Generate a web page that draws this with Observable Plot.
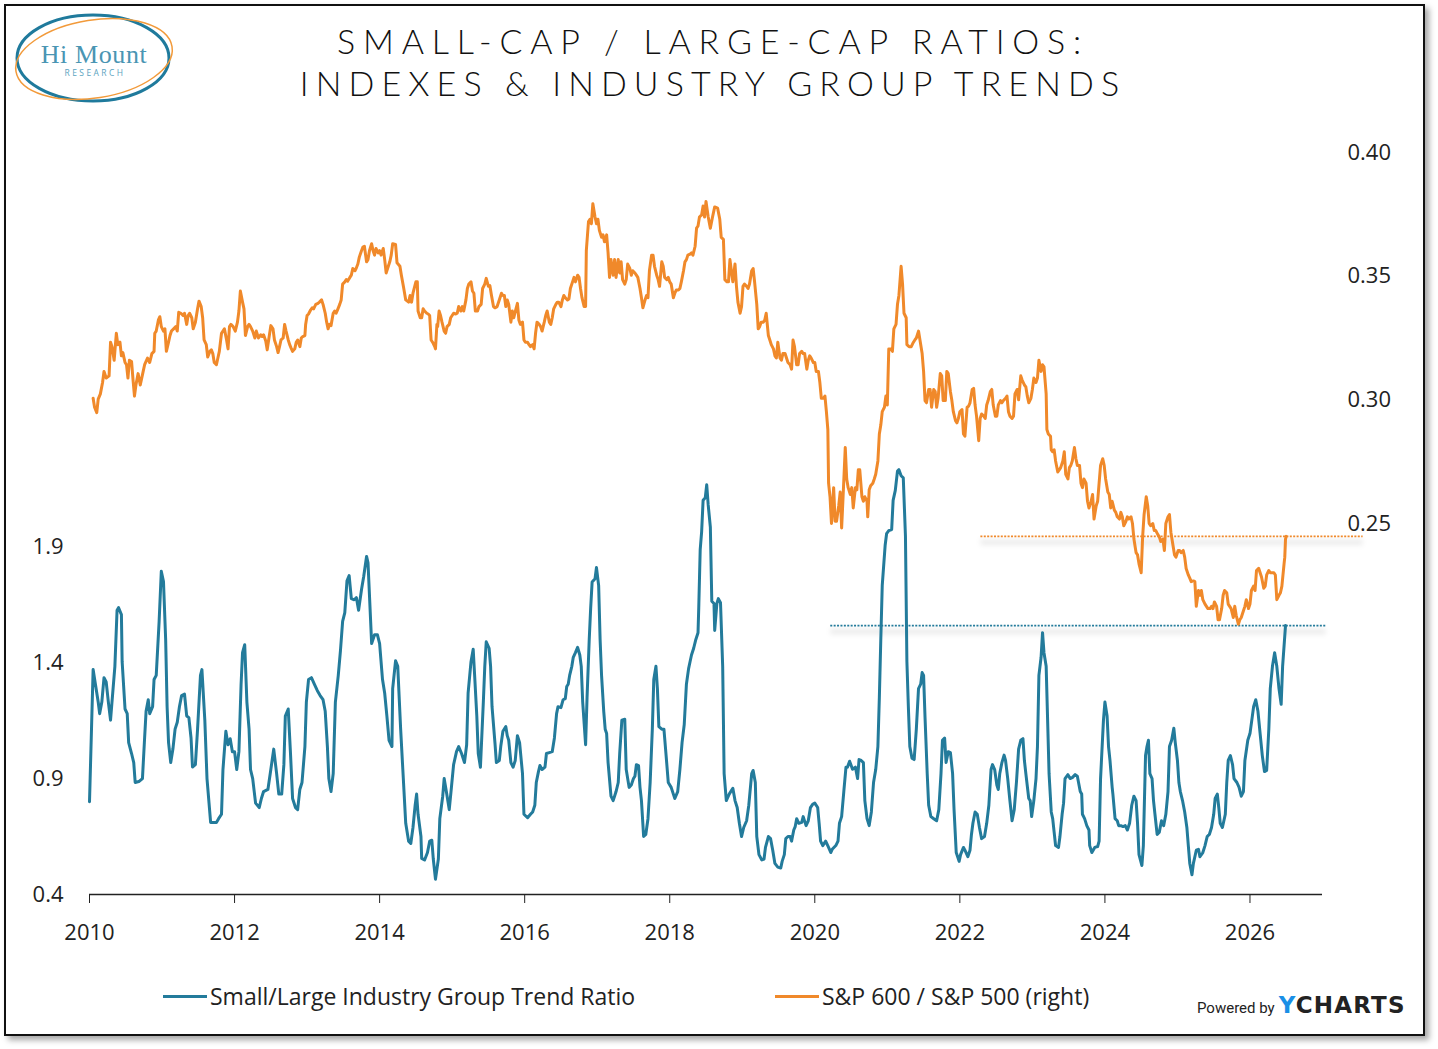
<!DOCTYPE html>
<html><head><meta charset="utf-8">
<script src="https://cdn.jsdelivr.net/npm/d3@7"></script>
<script src="https://cdn.jsdelivr.net/npm/@observablehq/plot@0.6"></script>
<style>
html,body{margin:0;padding:0;background:#fff;}
#wrap{position:relative;width:1438px;height:1049px;overflow:hidden;background:#fff;}
#frame{position:absolute;left:4px;top:4px;width:1417px;height:1028px;border:2px solid #111;box-shadow:4px 4px 6px rgba(0,0,0,0.35);background:#fff;}
#chart{position:absolute;left:0;top:0;}
.title{position:absolute;left:-6px;width:1438px;text-align:center;font-family:Lato,"Open Sans",sans-serif;font-weight:300;font-size:34px;color:#111;white-space:nowrap;}
.leg{position:absolute;top:980px;font-family:"Open Sans","Noto Sans",sans-serif;font-size:23px;color:#222;white-space:nowrap;display:flex;align-items:center;}
.sw{display:inline-block;width:44px;height:3px;margin-right:3px;}
#yc{position:absolute;left:1197px;top:992px;white-space:nowrap;font-family:Roboto,"Open Sans",sans-serif;color:#222;display:flex;align-items:baseline;}
.refshadow{filter:blur(2.5px);}
</style></head>
<body><div id="wrap">
<div id="frame"></div>
<svg id="logo" style="position:absolute;left:0;top:0" width="200" height="120">
  <ellipse cx="93" cy="58" rx="76" ry="43" fill="none" stroke="#1f7a9c" stroke-width="3"/>
  <ellipse cx="94" cy="59" rx="79" ry="39" fill="none" stroke="#f29a3a" stroke-width="1.5" transform="rotate(-9 94 59)"/>
  <text x="94" y="63" text-anchor="middle" font-family="'Liberation Serif',serif" font-size="26" letter-spacing="0.6" fill="#4a95b3">Hi Mount</text>
  <text x="95" y="76" text-anchor="middle" font-family="'Open Sans',sans-serif" font-size="8.5" letter-spacing="2.4" fill="#5ba3c0">RESEARCH</text>
</svg>
<div class="title" style="top:20px;letter-spacing:7.8px">SMALL-CAP / LARGE-CAP RATIOS:</div>
<div class="title" style="top:62px;letter-spacing:7.1px">INDEXES &amp; INDUSTRY GROUP TRENDS</div>
<div id="chart"></div>
<div class="leg" style="left:163px"><span class="sw" style="background:#237b9b"></span>Small/Large Industry Group Trend Ratio</div>
<div class="leg" style="left:775px"><span class="sw" style="background:#f0892a"></span>S&amp;P 600 / S&amp;P 500 (right)</div>
<div id="yc"><span style="font-size:15px;margin-right:4px">Powered by</span><span style="font-size:23px;font-weight:900;letter-spacing:1.2px;font-family:'DejaVu Sans',sans-serif"><span style="color:#1a8fe6">Y</span>CHARTS</span></div>
</div>
<script>
// ---- data ----
const xTicks = [2010, 2012, 2014, 2016, 2018, 2020, 2022, 2024, 2026];
const leftTicks = [0.4, 0.9, 1.4, 1.9];
const rightTicks = [0.25, 0.30, 0.35, 0.40];
const leftDomain = [0.4, 3.6];
const rightDomain = [0.10, 0.40];
const xDomain = [2010, 2027];
const trendRefLevel = 1.56;      // blue dotted
const trendRefSpan = [2020.22, 2027.05];
const indexRefLevel = 0.2448;    // orange dotted (right axis)
const indexRefSpan = [2022.29, 2027.56];

// Small/Large Industry Group Trend Ratio (left axis): [year, value]
const trendRatio = [[2010.00,0.80],[2010.05,1.37],[2010.08,1.31],[2010.12,1.23],[2010.14,1.18],[2010.17,1.23],[2010.20,1.335],[2010.23,1.317],[2010.26,1.23],[2010.29,1.152],[2010.31,1.23],[2010.35,1.384],[2010.38,1.626],[2010.40,1.637],[2010.44,1.607],[2010.45,1.404],[2010.49,1.20],[2010.52,1.18],[2010.54,1.055],[2010.58,1.008],[2010.61,0.969],[2010.63,0.883],[2010.68,0.887],[2010.73,0.90],[2010.76,1.076],[2010.78,1.19],[2010.81,1.24],[2010.83,1.18],[2010.87,1.21],[2010.89,1.327],[2010.92,1.345],[2010.96,1.578],[2010.99,1.794],[2011.02,1.75],[2011.05,1.50],[2011.07,1.21],[2011.09,1.055],[2011.12,0.969],[2011.15,1.027],[2011.18,1.113],[2011.21,1.143],[2011.24,1.21],[2011.27,1.258],[2011.31,1.264],[2011.34,1.17],[2011.37,1.163],[2011.40,1.075],[2011.42,0.95],[2011.46,0.96],[2011.49,1.113],[2011.53,1.345],[2011.55,1.37],[2011.59,1.152],[2011.62,0.90],[2011.67,0.711],[2011.75,0.711],[2011.78,0.727],[2011.82,0.746],[2011.84,0.939],[2011.88,1.104],[2011.91,1.046],[2011.94,1.072],[2011.97,1.016],[2012.00,1.016],[2012.03,0.939],[2012.06,1.016],[2012.09,1.307],[2012.11,1.443],[2012.14,1.477],[2012.17,1.23],[2012.20,1.113],[2012.22,0.939],[2012.25,0.90],[2012.29,0.794],[2012.34,0.775],[2012.37,0.814],[2012.40,0.844],[2012.46,0.853],[2012.50,0.939],[2012.54,1.027],[2012.58,0.921],[2012.61,0.833],[2012.65,0.833],[2012.68,0.96],[2012.70,1.17],[2012.74,1.20],[2012.77,1.016],[2012.80,0.814],[2012.84,0.775],[2012.87,0.766],[2012.90,0.853],[2012.93,0.883],[2012.97,1.038],[2012.99,1.23],[2013.02,1.327],[2013.06,1.335],[2013.10,1.307],[2013.14,1.28],[2013.18,1.258],[2013.22,1.24],[2013.25,1.19],[2013.28,1.038],[2013.30,0.90],[2013.33,0.844],[2013.36,0.921],[2013.39,1.23],[2013.43,1.345],[2013.46,1.452],[2013.49,1.578],[2013.52,1.616],[2013.55,1.753],[2013.58,1.775],[2013.61,1.676],[2013.65,1.671],[2013.68,1.68],[2013.71,1.626],[2013.75,1.714],[2013.78,1.77],[2013.82,1.858],[2013.84,1.83],[2013.89,1.482],[2013.93,1.52],[2013.97,1.52],[2014.00,1.482],[2014.04,1.327],[2014.07,1.268],[2014.10,1.17],[2014.13,1.065],[2014.17,1.038],[2014.18,1.288],[2014.22,1.408],[2014.25,1.384],[2014.29,1.113],[2014.32,0.939],[2014.36,0.707],[2014.40,0.63],[2014.43,0.62],[2014.46,0.689],[2014.49,0.785],[2014.51,0.833],[2014.53,0.746],[2014.57,0.65],[2014.58,0.556],[2014.62,0.549],[2014.66,0.581],[2014.69,0.63],[2014.72,0.634],[2014.74,0.553],[2014.77,0.466],[2014.81,0.553],[2014.83,0.727],[2014.87,0.824],[2014.89,0.90],[2014.92,0.844],[2014.96,0.766],[2014.99,0.862],[2015.02,0.96],[2015.06,1.016],[2015.09,1.038],[2015.13,1.008],[2015.17,0.969],[2015.20,1.046],[2015.22,1.268],[2015.26,1.404],[2015.29,1.458],[2015.31,1.345],[2015.34,1.17],[2015.36,1.008],[2015.39,0.949],[2015.43,1.23],[2015.45,1.384],[2015.47,1.49],[2015.51,1.462],[2015.53,1.384],[2015.55,1.21],[2015.59,1.055],[2015.61,0.969],[2015.65,0.978],[2015.67,1.038],[2015.70,1.104],[2015.74,1.124],[2015.76,1.085],[2015.78,1.065],[2015.81,0.969],[2015.84,0.949],[2015.87,0.978],[2015.90,1.085],[2015.93,1.055],[2015.97,0.921],[2015.99,0.746],[2016.04,0.731],[2016.08,0.746],[2016.11,0.756],[2016.14,0.785],[2016.16,0.883],[2016.19,0.93],[2016.21,0.956],[2016.24,0.939],[2016.28,0.949],[2016.30,1.008],[2016.34,1.012],[2016.38,1.016],[2016.41,1.075],[2016.44,1.18],[2016.46,1.21],[2016.50,1.206],[2016.53,1.24],[2016.56,1.245],[2016.58,1.297],[2016.60,1.307],[2016.62,1.345],[2016.65,1.384],[2016.67,1.423],[2016.70,1.443],[2016.73,1.466],[2016.76,1.433],[2016.78,1.384],[2016.80,1.23],[2016.84,1.046],[2016.86,1.249],[2016.89,1.50],[2016.91,1.636],[2016.93,1.748],[2016.97,1.762],[2016.99,1.81],[2017.02,1.732],[2017.04,1.50],[2017.06,1.345],[2017.09,1.19],[2017.11,1.113],[2017.13,1.094],[2017.15,0.969],[2017.19,0.824],[2017.22,0.805],[2017.26,0.844],[2017.29,0.883],[2017.31,1.008],[2017.34,1.152],[2017.38,1.156],[2017.40,0.939],[2017.44,0.862],[2017.47,0.872],[2017.50,0.90],[2017.52,0.91],[2017.54,0.96],[2017.57,0.956],[2017.59,0.862],[2017.61,0.805],[2017.64,0.65],[2017.67,0.659],[2017.70,0.727],[2017.73,0.883],[2017.76,1.113],[2017.78,1.327],[2017.81,1.384],[2017.83,1.288],[2017.85,1.124],[2017.89,1.113],[2017.92,1.113],[2017.95,0.999],[2017.98,0.883],[2018.02,0.862],[2018.05,0.833],[2018.07,0.814],[2018.11,0.844],[2018.14,0.939],[2018.17,1.055],[2018.20,1.133],[2018.23,1.307],[2018.26,1.374],[2018.28,1.404],[2018.30,1.433],[2018.33,1.462],[2018.36,1.50],[2018.39,1.529],[2018.40,1.636],[2018.42,1.887],[2018.44,1.965],[2018.46,2.10],[2018.49,2.111],[2018.51,2.167],[2018.53,2.081],[2018.56,1.984],[2018.58,1.665],[2018.61,1.655],[2018.62,1.539],[2018.65,1.655],[2018.67,1.676],[2018.70,1.658],[2018.73,1.384],[2018.75,0.921],[2018.78,0.805],[2018.82,0.833],[2018.87,0.858],[2018.90,0.805],[2018.93,0.775],[2018.96,0.707],[2018.99,0.65],[2019.02,0.689],[2019.06,0.718],[2019.09,0.785],[2019.13,0.921],[2019.15,0.935],[2019.18,0.883],[2019.20,0.65],[2019.23,0.572],[2019.27,0.549],[2019.30,0.553],[2019.32,0.603],[2019.36,0.65],[2019.39,0.641],[2019.42,0.591],[2019.45,0.534],[2019.49,0.518],[2019.53,0.514],[2019.55,0.543],[2019.58,0.572],[2019.60,0.641],[2019.63,0.65],[2019.66,0.65],[2019.68,0.63],[2019.71,0.678],[2019.73,0.693],[2019.75,0.727],[2019.78,0.707],[2019.82,0.711],[2019.84,0.736],[2019.88,0.697],[2019.91,0.718],[2019.94,0.775],[2019.97,0.789],[2020.00,0.794],[2020.04,0.775],[2020.06,0.707],[2020.08,0.63],[2020.11,0.611],[2020.15,0.63],[2020.19,0.603],[2020.22,0.581],[2020.24,0.595],[2020.29,0.611],[2020.32,0.63],[2020.34,0.707],[2020.37,0.736],[2020.40,0.844],[2020.43,0.949],[2020.45,0.949],[2020.48,0.975],[2020.52,0.94],[2020.56,0.949],[2020.59,0.90],[2020.61,0.982],[2020.64,0.978],[2020.67,0.969],[2020.69,0.805],[2020.72,0.727],[2020.75,0.697],[2020.78,0.756],[2020.81,0.883],[2020.84,0.939],[2020.87,1.038],[2020.89,1.249],[2020.91,1.50],[2020.93,1.733],[2020.97,1.906],[2020.99,1.956],[2021.02,1.969],[2021.06,1.974],[2021.08,2.10],[2021.11,2.143],[2021.14,2.226],[2021.16,2.232],[2021.19,2.206],[2021.22,2.197],[2021.25,1.945],[2021.27,1.404],[2021.29,1.21],[2021.31,1.038],[2021.34,0.988],[2021.37,0.982],[2021.40,1.113],[2021.43,1.288],[2021.46,1.307],[2021.48,1.357],[2021.50,1.345],[2021.52,1.163],[2021.55,0.921],[2021.57,0.785],[2021.60,0.736],[2021.64,0.727],[2021.68,0.718],[2021.71,0.766],[2021.74,0.921],[2021.76,1.065],[2021.79,1.075],[2021.81,0.969],[2021.84,1.016],[2021.87,1.012],[2021.90,0.921],[2021.92,0.766],[2021.95,0.581],[2021.99,0.543],[2022.01,0.572],[2022.05,0.603],[2022.07,0.591],[2022.11,0.563],[2022.14,0.591],[2022.16,0.659],[2022.18,0.707],[2022.21,0.756],[2022.24,0.746],[2022.27,0.689],[2022.30,0.641],[2022.34,0.65],[2022.37,0.707],[2022.40,0.785],[2022.43,0.939],[2022.45,0.96],[2022.48,0.939],[2022.51,0.872],[2022.53,0.853],[2022.55,0.921],[2022.58,0.969],[2022.61,1.001],[2022.63,0.978],[2022.66,0.90],[2022.69,0.805],[2022.72,0.718],[2022.75,0.766],[2022.78,0.883],[2022.81,1.027],[2022.84,1.065],[2022.87,1.072],[2022.89,0.978],[2022.91,0.921],[2022.95,0.814],[2022.97,0.805],[2022.99,0.736],[2023.02,0.805],[2023.05,0.90],[2023.07,1.038],[2023.09,1.345],[2023.12,1.423],[2023.14,1.529],[2023.16,1.443],[2023.19,1.384],[2023.21,1.152],[2023.23,0.921],[2023.26,0.756],[2023.28,0.727],[2023.30,0.669],[2023.32,0.611],[2023.36,0.603],[2023.38,0.65],[2023.41,0.746],[2023.43,0.794],[2023.45,0.90],[2023.49,0.917],[2023.52,0.90],[2023.55,0.904],[2023.59,0.917],[2023.62,0.91],[2023.66,0.844],[2023.68,0.833],[2023.69,0.746],[2023.72,0.727],[2023.75,0.697],[2023.78,0.678],[2023.79,0.611],[2023.82,0.581],[2023.86,0.603],[2023.90,0.607],[2023.92,0.63],[2023.94,0.90],[2023.98,1.152],[2024.00,1.23],[2024.03,1.17],[2024.05,1.038],[2024.07,0.978],[2024.10,0.862],[2024.11,0.833],[2024.14,0.727],[2024.17,0.718],[2024.19,0.697],[2024.22,0.697],[2024.25,0.693],[2024.28,0.697],[2024.31,0.678],[2024.34,0.707],[2024.37,0.785],[2024.40,0.824],[2024.43,0.805],[2024.45,0.707],[2024.47,0.572],[2024.51,0.525],[2024.53,0.611],[2024.56,0.999],[2024.58,1.038],[2024.60,1.065],[2024.62,0.921],[2024.65,0.90],[2024.67,0.805],[2024.69,0.746],[2024.72,0.659],[2024.75,0.669],[2024.78,0.718],[2024.81,0.697],[2024.84,0.746],[2024.87,0.844],[2024.89,1.038],[2024.92,1.065],[2024.95,1.117],[2024.97,1.055],[2025.00,0.978],[2025.02,0.883],[2025.04,0.844],[2025.07,0.805],[2025.10,0.756],[2025.13,0.689],[2025.15,0.611],[2025.17,0.534],[2025.20,0.485],[2025.22,0.534],[2025.26,0.591],[2025.29,0.595],[2025.31,0.563],[2025.35,0.581],[2025.38,0.611],[2025.41,0.65],[2025.44,0.659],[2025.47,0.689],[2025.50,0.746],[2025.52,0.814],[2025.55,0.833],[2025.57,0.775],[2025.59,0.707],[2025.62,0.689],[2025.66,0.746],[2025.68,0.883],[2025.70,0.978],[2025.73,0.999],[2025.76,0.96],[2025.78,0.90],[2025.82,0.883],[2025.85,0.862],[2025.88,0.824],[2025.91,0.844],[2025.93,0.978],[2025.97,1.065],[2026.00,1.094],[2026.03,1.163],[2026.05,1.21],[2026.08,1.24],[2026.11,1.19],[2026.14,1.094],[2026.17,0.999],[2026.20,0.93],[2026.23,0.935],[2026.26,1.113],[2026.28,1.288],[2026.31,1.384],[2026.34,1.443],[2026.37,1.384],[2026.40,1.288],[2026.43,1.22],[2026.45,1.384],[2026.49,1.56]];

// S&P 600 / S&P 500 (right axis): [year, value]
const spRatio = [[2010.05,.3006],[2010.07,.297],[2010.10,.2948],[2010.12,.3003],[2010.15,.3024],[2010.18,.307],[2010.20,.3115],[2010.23,.3088],[2010.27,.3097],[2010.29,.3233],[2010.31,.3215],[2010.34,.316],[2010.37,.3269],[2010.39,.3223],[2010.42,.3233],[2010.44,.3178],[2010.46,.3191],[2010.49,.3151],[2010.51,.3142],[2010.53,.3088],[2010.55,.316],[2010.58,.3155],[2010.60,.3082],[2010.62,.3015],[2010.64,.306],[2010.67,.3106],[2010.70,.306],[2010.74,.3115],[2010.76,.3142],[2010.80,.3169],[2010.83,.3151],[2010.86,.3187],[2010.89,.3196],[2010.90,.3269],[2010.92,.3278],[2010.95,.3323],[2010.97,.3336],[2010.99,.3296],[2011.02,.3278],[2011.04,.3287],[2011.06,.3196],[2011.09,.3233],[2011.11,.326],[2011.13,.3278],[2011.16,.3287],[2011.19,.3296],[2011.21,.3278],[2011.23,.3354],[2011.26,.335],[2011.29,.3341],[2011.31,.335],[2011.34,.3305],[2011.36,.3341],[2011.38,.335],[2011.41,.3332],[2011.43,.3287],[2011.46,.3314],[2011.49,.3368],[2011.51,.3399],[2011.54,.3377],[2011.56,.3332],[2011.58,.3242],[2011.61,.3223],[2011.63,.3173],[2011.66,.3196],[2011.68,.3202],[2011.70,.3187],[2011.72,.3151],[2011.75,.3142],[2011.77,.3169],[2011.79,.3196],[2011.82,.3269],[2011.84,.3278],[2011.86,.3287],[2011.89,.3242],[2011.91,.3206],[2011.93,.3296],[2011.95,.3305],[2011.98,.3296],[2012.01,.3278],[2012.04,.3314],[2012.06,.3359],[2012.08,.344],[2012.11,.3395],[2012.13,.3368],[2012.15,.326],[2012.18,.3296],[2012.20,.3305],[2012.22,.3296],[2012.25,.3278],[2012.28,.325],[2012.30,.3278],[2012.33,.325],[2012.36,.3263],[2012.38,.3256],[2012.40,.3263],[2012.43,.3238],[2012.45,.3202],[2012.47,.3242],[2012.50,.33],[2012.53,.3287],[2012.55,.3242],[2012.58,.3215],[2012.60,.3191],[2012.62,.3215],[2012.64,.3242],[2012.67,.325],[2012.69,.3305],[2012.71,.3278],[2012.74,.3242],[2012.76,.3223],[2012.78,.3209],[2012.80,.3196],[2012.83,.3206],[2012.85,.3233],[2012.87,.3242],[2012.90,.3215],[2012.92,.325],[2012.94,.3256],[2012.97,.326],[2012.98,.3305],[2013.00,.3341],[2013.02,.3347],[2013.05,.3364],[2013.07,.3372],[2013.09,.3368],[2013.12,.3386],[2013.15,.339],[2013.17,.3395],[2013.20,.3404],[2013.22,.3386],[2013.25,.335],[2013.27,.3314],[2013.29,.3287],[2013.31,.3305],[2013.33,.33],[2013.36,.335],[2013.38,.3359],[2013.40,.335],[2013.42,.3364],[2013.45,.3386],[2013.47,.3404],[2013.49,.3468],[2013.52,.3477],[2013.54,.3486],[2013.56,.348],[2013.59,.3495],[2013.61,.3504],[2013.63,.3531],[2013.66,.3522],[2013.68,.3534],[2013.70,.3549],[2013.72,.3577],[2013.75,.3603],[2013.77,.3618],[2013.79,.3621],[2013.82,.3558],[2013.84,.3567],[2013.86,.3603],[2013.89,.3631],[2013.91,.3603],[2013.93,.3585],[2013.95,.3612],[2013.98,.3594],[2014.00,.3603],[2014.02,.3585],[2014.05,.3612],[2014.07,.3567],[2014.09,.3513],[2014.11,.3531],[2014.14,.3558],[2014.16,.3585],[2014.18,.3631],[2014.22,.3628],[2014.24,.3554],[2014.28,.354],[2014.30,.3504],[2014.33,.3455],[2014.36,.3404],[2014.40,.3395],[2014.42,.3422],[2014.44,.3395],[2014.46,.3431],[2014.50,.3477],[2014.52,.3477],[2014.53,.3359],[2014.56,.3332],[2014.58,.3332],[2014.60,.3368],[2014.62,.3359],[2014.65,.335],[2014.67,.3347],[2014.69,.3341],[2014.71,.3242],[2014.73,.3233],[2014.76,.3215],[2014.77,.3206],[2014.79,.3305],[2014.80,.3296],[2014.82,.3359],[2014.84,.3341],[2014.86,.3314],[2014.89,.3278],[2014.91,.3269],[2014.93,.3296],[2014.96,.3305],[2014.98,.3332],[2015.00,.3341],[2015.02,.335],[2015.05,.3347],[2015.07,.335],[2015.09,.3377],[2015.12,.3359],[2015.14,.3377],[2015.16,.3359],[2015.19,.3404],[2015.21,.345],[2015.23,.3468],[2015.26,.3477],[2015.28,.344],[2015.30,.3431],[2015.32,.3359],[2015.35,.3359],[2015.37,.3377],[2015.40,.3386],[2015.42,.345],[2015.45,.3468],[2015.47,.3491],[2015.50,.3459],[2015.52,.3462],[2015.54,.3426],[2015.57,.3377],[2015.59,.3372],[2015.62,.3377],[2015.65,.3404],[2015.68,.3431],[2015.70,.3422],[2015.72,.3422],[2015.74,.3377],[2015.76,.3404],[2015.78,.3386],[2015.81,.3314],[2015.83,.3359],[2015.85,.3332],[2015.88,.3368],[2015.90,.339],[2015.92,.3323],[2015.94,.3305],[2015.97,.3314],[2015.99,.3242],[2016.01,.3233],[2016.04,.3233],[2016.06,.3223],[2016.08,.3215],[2016.11,.3223],[2016.13,.3206],[2016.15,.3269],[2016.17,.3314],[2016.20,.3305],[2016.22,.3296],[2016.24,.3278],[2016.27,.3314],[2016.29,.3341],[2016.31,.3359],[2016.34,.3314],[2016.36,.3305],[2016.38,.3332],[2016.40,.3368],[2016.43,.3386],[2016.45,.3395],[2016.47,.3395],[2016.50,.3377],[2016.52,.3404],[2016.54,.3422],[2016.56,.3413],[2016.59,.3404],[2016.61,.3408],[2016.63,.345],[2016.66,.3477],[2016.68,.3495],[2016.70,.3477],[2016.73,.3504],[2016.75,.3495],[2016.77,.345],[2016.79,.3413],[2016.82,.3377],[2016.84,.3377],[2016.85,.3603],[2016.88,.3721],[2016.90,.373],[2016.92,.3712],[2016.94,.3793],[2016.97,.3739],[2016.99,.3712],[2017.01,.373],[2017.03,.3685],[2017.06,.3657],[2017.08,.3667],[2017.10,.3639],[2017.13,.3667],[2017.15,.3594],[2017.17,.3495],[2017.19,.3567],[2017.22,.3504],[2017.24,.3567],[2017.26,.3495],[2017.29,.3567],[2017.31,.3513],[2017.33,.3558],[2017.35,.3486],[2017.38,.3468],[2017.40,.3486],[2017.42,.3549],[2017.45,.3531],[2017.47,.3504],[2017.49,.3522],[2017.52,.3513],[2017.54,.3504],[2017.56,.3495],[2017.59,.345],[2017.61,.3413],[2017.63,.3372],[2017.66,.3404],[2017.68,.3422],[2017.70,.3413],[2017.72,.3522],[2017.75,.3585],[2017.77,.3585],[2017.79,.354],[2017.82,.3504],[2017.84,.3486],[2017.86,.3459],[2017.89,.3558],[2017.91,.354],[2017.93,.3495],[2017.96,.3486],[2017.98,.3495],[2018.00,.3477],[2018.02,.3468],[2018.05,.3413],[2018.07,.3431],[2018.09,.3444],[2018.12,.3444],[2018.14,.345],[2018.16,.3477],[2018.19,.3522],[2018.21,.3558],[2018.23,.3567],[2018.25,.3585],[2018.28,.3589],[2018.30,.3594],[2018.32,.3585],[2018.35,.3621],[2018.37,.3694],[2018.39,.3703],[2018.41,.3739],[2018.44,.3748],[2018.46,.3784],[2018.48,.3739],[2018.50,.3802],[2018.53,.374],[2018.56,.3694],[2018.59,.3739],[2018.62,.378],[2018.66,.3775],[2018.69,.373],[2018.71,.3657],[2018.74,.3649],[2018.76,.3486],[2018.79,.3477],[2018.81,.3477],[2018.83,.3567],[2018.85,.3522],[2018.87,.3477],[2018.90,.3549],[2018.92,.3459],[2018.94,.3395],[2018.97,.335],[2018.99,.3377],[2019.01,.3459],[2019.03,.3468],[2019.06,.3459],[2019.08,.345],[2019.10,.3468],[2019.13,.3522],[2019.15,.3531],[2019.17,.3477],[2019.20,.3386],[2019.22,.3287],[2019.24,.3296],[2019.26,.3314],[2019.29,.3314],[2019.31,.3323],[2019.33,.335],[2019.36,.326],[2019.38,.3242],[2019.40,.3223],[2019.43,.3206],[2019.45,.3178],[2019.47,.3169],[2019.49,.3233],[2019.52,.3169],[2019.54,.316],[2019.56,.3187],[2019.59,.3187],[2019.61,.3169],[2019.63,.3151],[2019.66,.3142],[2019.68,.3124],[2019.70,.3242],[2019.72,.3215],[2019.75,.3142],[2019.77,.3142],[2019.79,.3187],[2019.82,.3196],[2019.84,.3187],[2019.86,.3187],[2019.89,.3124],[2019.91,.316],[2019.93,.3178],[2019.95,.3169],[2019.98,.3151],[2020.00,.3151],[2020.02,.3115],[2020.05,.3115],[2020.07,.307],[2020.09,.3006],[2020.12,.3006],[2020.14,.3015],[2020.16,.2952],[2020.18,.288],[2020.19,.2663],[2020.21,.2608],[2020.23,.25],[2020.26,.2645],[2020.28,.2509],[2020.30,.2509],[2020.33,.2572],[2020.35,.2627],[2020.37,.2482],[2020.39,.2608],[2020.42,.2807],[2020.44,.268],[2020.46,.2645],[2020.49,.2617],[2020.51,.2645],[2020.53,.2563],[2020.56,.2645],[2020.58,.2636],[2020.60,.2717],[2020.62,.2717],[2020.65,.2608],[2020.67,.259],[2020.69,.2608],[2020.72,.259],[2020.73,.2527],[2020.75,.2636],[2020.77,.2653],[2020.80,.2663],[2020.82,.268],[2020.84,.2699],[2020.87,.2753],[2020.89,.2862],[2020.91,.2898],[2020.93,.2952],[2020.96,.297],[2020.98,.3015],[2021.00,.2979],[2021.02,.3206],[2021.05,.3206],[2021.07,.3196],[2021.09,.3287],[2021.12,.3305],[2021.14,.3386],[2021.16,.3422],[2021.19,.354],[2021.21,.3468],[2021.23,.335],[2021.26,.3332],[2021.27,.3223],[2021.30,.3215],[2021.33,.3215],[2021.36,.3233],[2021.38,.3242],[2021.40,.325],[2021.43,.3278],[2021.45,.3242],[2021.48,.3187],[2021.50,.3115],[2021.52,.2997],[2021.54,.2988],[2021.57,.3042],[2021.59,.3042],[2021.61,.297],[2021.64,.3042],[2021.66,.3033],[2021.68,.297],[2021.70,.3006],[2021.73,.3106],[2021.75,.3097],[2021.77,.2997],[2021.80,.2997],[2021.82,.3115],[2021.84,.3106],[2021.87,.3033],[2021.89,.2997],[2021.91,.2952],[2021.94,.2916],[2021.96,.2907],[2021.98,.2925],[2022.00,.2952],[2022.03,.2961],[2022.05,.2862],[2022.07,.2853],[2022.10,.297],[2022.12,.2974],[2022.14,.2988],[2022.17,.3042],[2022.19,.3046],[2022.21,.2979],[2022.23,.2934],[2022.26,.2835],[2022.28,.2925],[2022.30,.2943],[2022.33,.2934],[2022.35,.2925],[2022.37,.2979],[2022.39,.2997],[2022.42,.3033],[2022.44,.3042],[2022.46,.2979],[2022.49,.2934],[2022.51,.2934],[2022.53,.2979],[2022.56,.2997],[2022.58,.2988],[2022.60,.2997],[2022.63,.3006],[2022.65,.3015],[2022.67,.2952],[2022.69,.2934],[2022.72,.2925],[2022.74,.2934],[2022.76,.3024],[2022.79,.3042],[2022.81,.3000],[2022.84,.3097],[2022.86,.3079],[2022.89,.306],[2022.91,.3052],[2022.93,.3015],[2022.95,.2988],[2022.98,.3006],[2023.00,.3042],[2023.02,.3088],[2023.05,.307],[2023.07,.3088],[2023.09,.316],[2023.12,.3115],[2023.14,.3142],[2023.16,.3133],[2023.19,.3024],[2023.20,.288],[2023.22,.2862],[2023.25,.2853],[2023.26,.2798],[2023.28,.279],[2023.30,.2798],[2023.32,.2753],[2023.35,.2708],[2023.37,.2717],[2023.39,.2726],[2023.42,.2753],[2023.44,.279],[2023.46,.2699],[2023.49,.268],[2023.51,.2726],[2023.53,.2735],[2023.55,.2753],[2023.58,.2807],[2023.60,.2762],[2023.62,.2735],[2023.65,.2735],[2023.67,.2663],[2023.69,.2645],[2023.71,.268],[2023.74,.2663],[2023.76,.259],[2023.78,.2563],[2023.81,.259],[2023.83,.2617],[2023.85,.2518],[2023.88,.2572],[2023.90,.259],[2023.92,.2663],[2023.94,.2735],[2023.97,.2762],[2023.99,.2735],[2024.01,.268],[2024.04,.2627],[2024.06,.2617],[2024.08,.2563],[2024.10,.259],[2024.13,.2554],[2024.15,.2545],[2024.17,.2527],[2024.20,.2518],[2024.22,.2545],[2024.24,.2527],[2024.26,.2491],[2024.29,.2509],[2024.31,.2527],[2024.33,.2518],[2024.36,.2527],[2024.38,.25],[2024.40,.2437],[2024.43,.2382],[2024.45,.2373],[2024.47,.2337],[2024.50,.2301],[2024.52,.2446],[2024.54,.2536],[2024.57,.2608],[2024.59,.2572],[2024.61,.25],[2024.63,.2491],[2024.66,.25],[2024.68,.2472],[2024.70,.2472],[2024.73,.2455],[2024.75,.2446],[2024.77,.2427],[2024.80,.2437],[2024.82,.2391],[2024.84,.25],[2024.87,.2527],[2024.89,.2536],[2024.91,.2464],[2024.94,.2409],[2024.96,.2373],[2024.98,.2364],[2025.01,.2391],[2025.03,.2391],[2025.05,.2382],[2025.08,.2391],[2025.10,.2364],[2025.12,.2318],[2025.15,.2292],[2025.17,.2279],[2025.19,.2265],[2025.22,.2268],[2025.24,.2265],[2025.26,.2165],[2025.29,.2229],[2025.31,.221],[2025.33,.2229],[2025.35,.2192],[2025.38,.2174],[2025.40,.2165],[2025.42,.2156],[2025.45,.2156],[2025.47,.2165],[2025.49,.2156],[2025.51,.2183],[2025.54,.2165],[2025.56,.2111],[2025.58,.2111],[2025.61,.2156],[2025.63,.221],[2025.65,.2229],[2025.68,.222],[2025.70,.2174],[2025.72,.2165],[2025.74,.2156],[2025.77,.212],[2025.79,.2165],[2025.81,.2129],[2025.84,.2093],[2025.86,.2111],[2025.88,.212],[2025.91,.2147],[2025.93,.2165],[2025.95,.2192],[2025.98,.2156],[2026.00,.2174],[2026.02,.2229],[2026.05,.2247],[2026.07,.2229],[2026.09,.231],[2026.12,.2319],[2026.14,.2301],[2026.16,.2283],[2026.19,.2238],[2026.21,.2247],[2026.23,.2292],[2026.26,.231],[2026.28,.2301],[2026.30,.2301],[2026.33,.2301],[2026.35,.2292],[2026.37,.2192],[2026.40,.221],[2026.42,.222],[2026.44,.2247],[2026.47,.2337],[2026.48,.2364],[2026.49,.2437],[2026.50,.2448]];

// ---- chart ----
const BLUE = "#237b9b", ORANGE = "#f0892a";
const k = (leftDomain[1] - leftDomain[0]) / (rightDomain[1] - rightDomain[0]);
const toLeft = v => leftDomain[0] + (v - rightDomain[0]) * k;
const fromLeft = v => rightDomain[0] + (v - leftDomain[0]) / k;

const chart = Plot.plot({
  width: 1438,
  height: 1049,
  marginLeft: 89,
  marginRight: 116,
  marginTop: 152,
  marginBottom: 155,
  x: {domain: xDomain},
  y: {domain: leftDomain},
  style: {fontFamily: "'Open Sans','Noto Sans',sans-serif", fontSize: "22px", color: "#222", background: "transparent", overflow: "visible"},
  marks: [
    Plot.ruleY([trendRefLevel], {x1: trendRefSpan[0], x2: trendRefSpan[1], stroke: "#000", strokeOpacity: 0.07, strokeWidth: 6, dy: 6, className: "refshadow"}),
    Plot.ruleY([toLeft(indexRefLevel)], {x1: indexRefSpan[0], x2: indexRefSpan[1], stroke: "#000", strokeOpacity: 0.07, strokeWidth: 6, dy: 6, className: "refshadow"}),
    Plot.ruleY([trendRefLevel], {x1: trendRefSpan[0], x2: trendRefSpan[1], stroke: BLUE, strokeWidth: 1.7, strokeDasharray: "2,1.4"}),
    Plot.ruleY([toLeft(indexRefLevel)], {x1: indexRefSpan[0], x2: indexRefSpan[1], stroke: ORANGE, strokeWidth: 1.7, strokeDasharray: "2,1.4"}),
    Plot.line(spRatio, {x: d => d[0], y: d => toLeft(d[1]), stroke: ORANGE, strokeWidth: 3, strokeLinejoin: "round"}),
    Plot.line(trendRatio, {x: d => d[0], y: d => d[1], stroke: BLUE, strokeWidth: 3, strokeLinejoin: "round"}),
    Plot.ruleY([leftDomain[0]], {stroke: "#222", strokeWidth: 1.5}),
    Plot.axisX(xTicks, {tickFormat: d => String(d), tickSize: 9, tickPadding: 21, fontSize: 22, stroke: "#222", label: null}),
    Plot.axisY(leftTicks, {anchor: "left", tickSize: 0, tickPadding: 26, tickFormat: d => d.toFixed(1), fontSize: 22, label: null}),
    Plot.axisY(rightTicks.map(toLeft), {anchor: "right", tickSize: 0, tickPadding: 25, tickFormat: d => fromLeft(d).toFixed(2), fontSize: 22, label: null})
  ]
});
document.getElementById("chart").appendChild(chart);
</script>
</body></html>
